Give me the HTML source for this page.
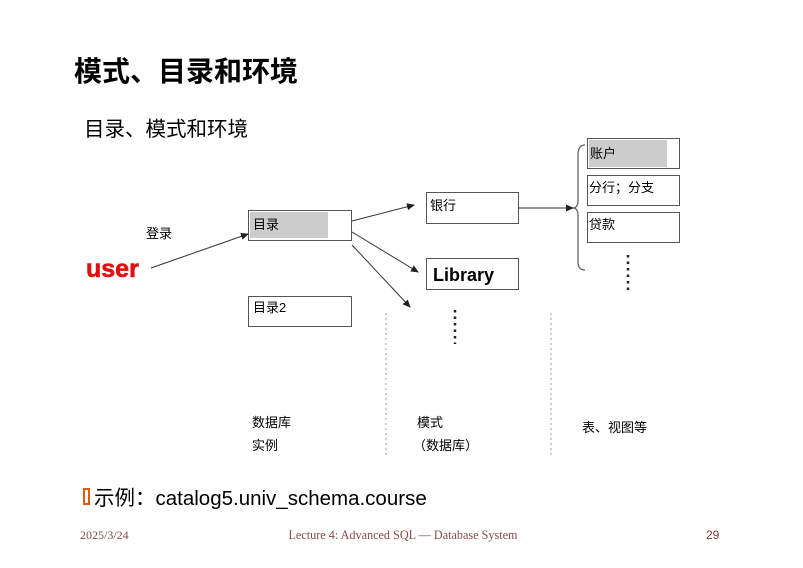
<!DOCTYPE html>
<html><head><meta charset="utf-8"><style>
html,body{margin:0;padding:0;background:#fff;}
svg{display:block;}
text{font-family:"Liberation Sans","Noto Sans CJK SC",sans-serif;fill:#000;}
</style></head><body>
<svg width="803" height="568" viewBox="0 0 803 568" xmlns="http://www.w3.org/2000/svg">
<defs><marker id="a" markerWidth="8" markerHeight="8" refX="7" refY="4" orient="auto" markerUnits="userSpaceOnUse"><path d="M0,0.5 L8,4 L0,7.5 Z" fill="#222"/></marker></defs>
<text x="74" y="81" font-size="28" font-weight="bold">模式、目录和环境</text>
<text x="84" y="136" font-size="20.5">目录、模式和环境</text>

<rect x="248.5" y="210.5" width="103" height="30" fill="#fff" stroke="#555"/>
<rect x="250" y="212" width="78" height="26" fill="#ccc"/>
<text x="253" y="229" font-size="13">目录</text>
<rect x="248.5" y="296.5" width="103" height="30" fill="#fff" stroke="#555"/>
<text x="253" y="312" font-size="13">目录2</text>
<rect x="426.5" y="192.5" width="92" height="31" fill="#fff" stroke="#555"/>
<text x="430" y="210" font-size="13">银行</text>
<rect x="426.5" y="258.5" width="92" height="31" fill="#fff" stroke="#555"/>
<text x="433" y="281" font-size="18" font-weight="bold">Library</text>

<rect x="587.5" y="138.5" width="92" height="30" fill="#fff" stroke="#555"/>
<rect x="589" y="140" width="78" height="27" fill="#ccc"/>
<text x="590" y="158" font-size="13">账户</text>
<rect x="587.5" y="175.5" width="92" height="30" fill="#fff" stroke="#555"/>
<text x="589" y="192" font-size="13">分行；分支</text>
<rect x="587.5" y="212.5" width="92" height="30" fill="#fff" stroke="#555"/>
<text x="589" y="229" font-size="13">贷款</text>

<path d="M585,145 Q578,145 578,155 L578,200 Q578,208 573,208 Q578,208 578,216 L578,262 Q578,270 585,270" fill="none" stroke="#666" stroke-width="1.3"/>
<line x1="518" y1="208" x2="573" y2="208" stroke="#333" marker-end="url(#a)"/>

<text x="86" y="277" font-size="25" font-weight="bold" style="fill:#e01010;stroke:#e01010;stroke-width:0.6">user</text>
<text x="146" y="238" font-size="13">登录</text>
<line x1="151" y1="268" x2="248" y2="234" stroke="#333" marker-end="url(#a)"/>
<line x1="352" y1="221" x2="414" y2="205" stroke="#333" marker-end="url(#a)"/>
<line x1="352" y1="232" x2="418" y2="272" stroke="#333" marker-end="url(#a)"/>
<line x1="352" y1="245" x2="410" y2="307" stroke="#333" marker-end="url(#a)"/>

<line x1="455" y1="310" x2="455" y2="344" stroke="#222" stroke-width="2.5" stroke-dasharray="2.5,4"/>
<line x1="628" y1="255" x2="628" y2="290" stroke="#222" stroke-width="2.5" stroke-dasharray="2.5,4"/>

<line x1="386" y1="313" x2="386" y2="455" stroke="#999" stroke-dasharray="2,3"/>
<line x1="551" y1="313" x2="551" y2="455" stroke="#999" stroke-dasharray="2,3"/>

<text x="252" y="427" font-size="13">数据库</text>
<text x="252" y="450" font-size="13">实例</text>
<text x="417" y="427" font-size="13">模式</text>
<text x="413" y="450" font-size="13">（数据库）</text>
<text x="582" y="432" font-size="13">表、视图等</text>

<rect x="84" y="489" width="5" height="15" fill="none" stroke="#e05a10" stroke-width="2"/>
<text x="94" y="505" font-size="20.5">示例：catalog5.univ_schema.course</text>

<text x="80" y="539" font-size="12" style="font-family:'Liberation Serif',serif;fill:#8a4a4a">2025/3/24</text>
<text x="403" y="539" font-size="12.2" text-anchor="middle" style="font-family:'Liberation Serif',serif;fill:#8a4a4a">Lecture 4: Advanced SQL — Database System</text>
<text x="706" y="539" font-size="12" style="fill:#8a3a3a">29</text>
</svg>
</body></html>
